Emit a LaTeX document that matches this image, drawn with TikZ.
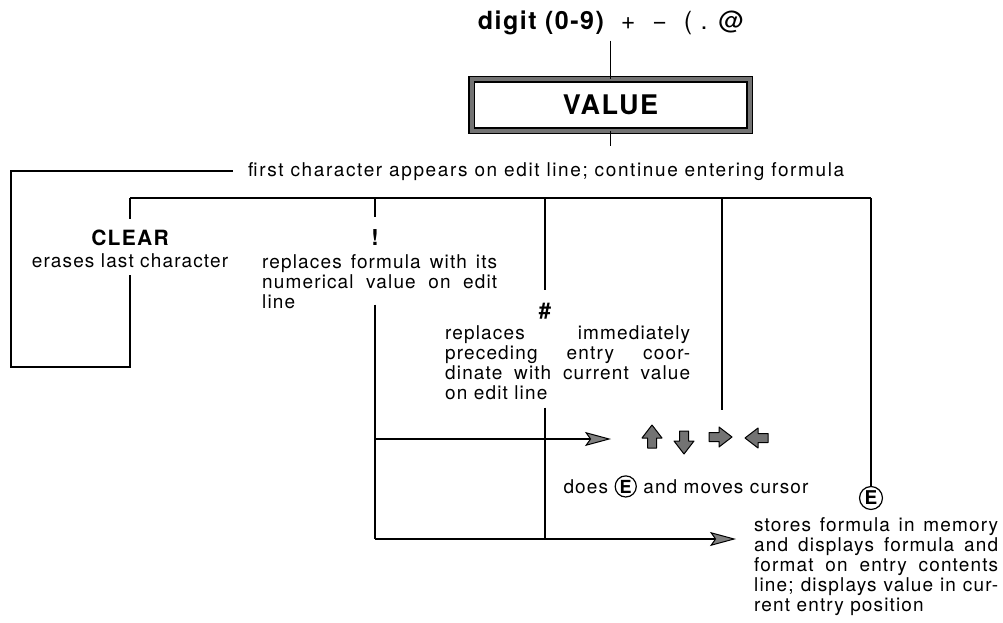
\documentclass[tikz,border=0pt]{standalone}
\usepackage{fontspec}
\setmainfont{TeX Gyre Heros}[LetterSpace=6]
\usepackage{tikz}
\usetikzlibrary{arrows.meta,positioning}
\tikzstyle{txt} = [inner sep=0pt, font=\fontsize{19}{20}\selectfont]
\tikzstyle{para} = [txt, align=justify, anchor=north west]
\tikzstyle{keylbl} = [inner sep=0pt, anchor=base, font=\fontsize{21}{24}\selectfont\bfseries]
\tikzstyle{wire} = [line width=1.3pt]
\tikzstyle{arrow} = [wire, -{Stealth[length=26pt,width=14pt,inset=5pt,fill=black!50,line width=1pt]}]
\tikzset{cursorkey/.pic={
    \filldraw[fill=black!55, line width=1pt, line join=round]
        (-4.5,11) -- (-4.5,1) -- (-10,1) -- (0,-12) -- (10,1) -- (4.5,1) -- (4.5,11) -- cycle;}}
\newcommand{\circE}{\tikz[baseline=(e.base)]\node[circle, draw, line width=1.2pt, inner sep=1.2pt, font=\fontsize{18}{20}\selectfont\bfseries](e){E};}

\begin{document}
\begin{tikzpicture}[x=1pt, y=-1pt]
        \useasboundingbox (0,0) rectangle (1003,623);
        % Nodes
        \node (title) [inner sep=0pt, anchor=base, font=\fontsize{25}{28}\selectfont] at (611,30)
            {\bfseries digit (0-9)\ \ \mdseries+\ \ −\ \ ( . @};
        \node (value) [draw=black, line width=1.5pt, double=black!55, double distance=4pt,
            minimum width=278pt, minimum height=51pt, font=\fontsize{27}{30}\selectfont\bfseries] at (610.5,105) {VALUE};
        \node (first) [txt, anchor=base west, inner xsep=15pt, font=\fontsize{19}{20}\selectfont\addfontfeatures{LetterSpace=8.5}] at (233,176)
            {first character appears on edit line; continue entering formula};
        \node (clear) [keylbl] at (130,245) {CLEAR};
        \node (clrtxt) [txt, anchor=base] at (130,267) {erases last character};
        \node (bang) [keylbl, font=\fontsize{22}{24}\selectfont\bfseries] at (375,245) {!};
        \node (bangtxt) [para, text width=235pt] at (262,254)
            {replaces formula with its\linebreak numerical value on edit\linebreak line};
        \node (hash) [keylbl, font=\fontsize{22}{24}\selectfont\bfseries] at (545,318) {\#};
        \node (hashtxt) [para, text width=245pt] at (445,325)
            {replaces immediately\linebreak preceding entry coor-\linebreak dinate with current value\linebreak on edit line};
        \pic (up) at (652,437) {cursorkey};
        \pic[rotate=180] (down) at (684,442) {cursorkey};
        \pic[rotate=-90] (rgt) at (720,437) {cursorkey};
        \pic[rotate=90] (lft) at (757,438) {cursorkey};
        \node (does) [txt, anchor=base] at (686,493) {does \circE\ and moves cursor};
        \node (ecirc) [circle, draw, line width=1.2pt, inner sep=1.5pt, font=\fontsize{19}{20}\selectfont\bfseries] at (871,498) {E};
        \node (storetxt) [para, text width=244pt] at (754,517)
            {stores formula in memory\linebreak and displays formula and\linebreak format on entry contents\linebreak line; displays value in cur-\linebreak rent entry position};
        \coordinate (bus) at (130,198);
        \coordinate (loop) at (11,367);
        \coordinate (keysin) at (611,439);
        \coordinate (j1) at (375,439);
        \coordinate (j2) at (375,539);

        % Arrows
        \draw[wire] (value.north |- title.south) ++(0,5) -- (value.north);
        \draw[wire] (value.south) -- ++(0,15);
        \draw[wire] (clrtxt.south) ++(0,8) -- (clrtxt.south |- loop) -- (loop) |- (first.west);
        \draw[wire] (bus) -- (bus -| ecirc);
        \draw[wire] (bus) -- ++(0,21);
        \draw[wire] (bang |- bus) -- ++(0,19);
        \draw[wire] (hash |- bus) -- ++(0,92);
        \draw[wire] (722,198) -- (722,410);
        \draw[wire] (ecirc |- bus) -- (ecirc.north);
        \draw[wire] (bangtxt.south -| bang) ++(0,-4) -- (j2);
        \draw[wire] (hashtxt.south -| hash) ++(0,8) -- (hash |- j2);
        \draw[arrow] (j1) -- (keysin);
        \draw[arrow] (j2) -- ([xshift=-18pt]storetxt.west |- j2);
    \end{tikzpicture}
\end{document}
